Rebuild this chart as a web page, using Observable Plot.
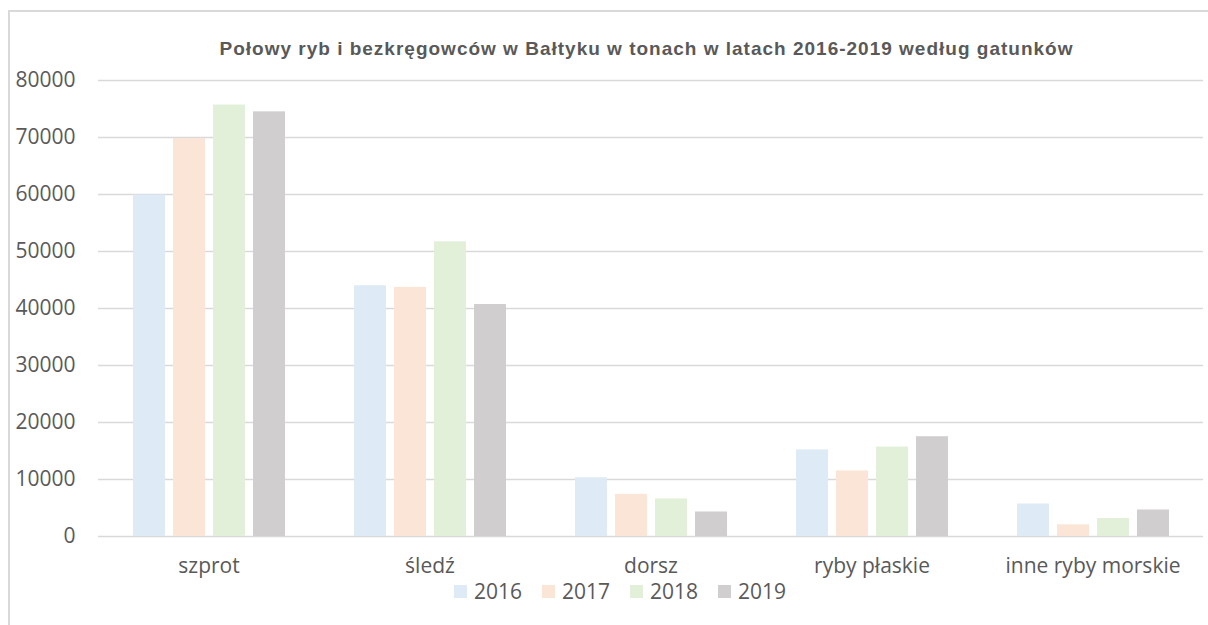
<!DOCTYPE html>
<html>
<head>
<meta charset="utf-8">
<script src="https://cdn.jsdelivr.net/npm/d3@7"></script>
<script src="https://cdn.jsdelivr.net/npm/@observablehq/plot@0.6"></script>
<style>
  html, body { margin: 0; padding: 0; background: #fff; }
  #wrap { position: relative; width: 1208px; height: 625px; overflow: hidden; font-family: "Open Sans", sans-serif; }
  #border { position: absolute; left: 8px; top: 10px; width: 1400px; height: 800px; border: 2px solid #d9d9d9; box-sizing: border-box; }
  #title { position: relative; height: 60px; box-sizing: border-box; padding: 38px 4px 0 89px; text-align: center; white-space: nowrap;
           font-family: "Liberation Sans", Arial, sans-serif; font-weight: bold; font-size: 19px; letter-spacing: 1px; color: #595959; line-height: 22px; }
  #chart { position: relative; }
  #legend { position: relative; display: flex; align-items: center; padding-left: 454px; height: 30px; margin-top: -4px;
            font-size: 21px; color: #595959; }
  #legend .item { display: flex; align-items: center; margin-right: 20px; }
  #legend .sw { width: 13px; height: 13px; margin-right: 7px; }
</style>
</head>
<body>
<div id="wrap">
  <div id="border"></div>
  <div id="title"></div>
  <div id="chart"></div>
  <div id="legend"></div>
</div>
<script>
const title = "Połowy ryb i bezkręgowców w Bałtyku w tonach w latach 2016-2019 według gatunków";
const categories = ["szprot", "śledź", "dorsz", "ryby płaskie", "inne ryby morskie"];
const years = ["2016", "2017", "2018", "2019"];
const colors = ["#deebf7", "#fbe5d6", "#e2f0d9", "#d0cece"];
const v2016 = [59900, 44000, 10300, 15200, 5700];
const v2017 = [69800, 43700, 7400, 11500, 2050];
const v2018 = [75700, 51700, 6600, 15700, 3150];
const v2019 = [74500, 40700, 4300, 17500, 4650];
const yTicks = [0, 10000, 20000, 30000, 40000, 50000, 60000, 70000, 80000];

const series = [v2016, v2017, v2018, v2019];
const data = [];
categories.forEach((c, i) => years.forEach((y, j) => data.push({cat: c, year: y, value: series[j][i]})));

document.getElementById("title").textContent = title;

const plot = Plot.plot({
  width: 1208,
  height: 520,
  marginLeft: 96,
  marginRight: 4,
  marginTop: 20,
  marginBottom: 44,
  style: {fontFamily: "'Open Sans', sans-serif", fontSize: "21px", color: "#595959", background: "transparent"},
  fx: {domain: categories, padding: 0, label: null, tickSize: 0, tickPadding: 22},
  x: {domain: years, paddingInner: 0.2, paddingOuter: 0.856, axis: null},
  y: {domain: [0, 80000], ticks: yTicks, tickSize: 0, tickPadding: 23, label: null, tickFormat: d => String(d)},
  color: {domain: years, range: colors},
  marks: [
    Plot.ruleY(yTicks, {stroke: "#d9d9d9", strokeWidth: 1.5}),
    Plot.barY(data, {fx: "cat", x: "year", y: "value", fill: "year"})
  ]
});
document.getElementById("chart").appendChild(plot);

const legend = document.getElementById("legend");
years.forEach((y, j) => {
  const it = document.createElement("div");
  it.className = "item";
  const sw = document.createElement("div");
  sw.className = "sw";
  sw.style.background = colors[j];
  const t = document.createElement("span");
  t.textContent = y;
  it.appendChild(sw); it.appendChild(t);
  legend.appendChild(it);
});
</script>
</body>
</html>
